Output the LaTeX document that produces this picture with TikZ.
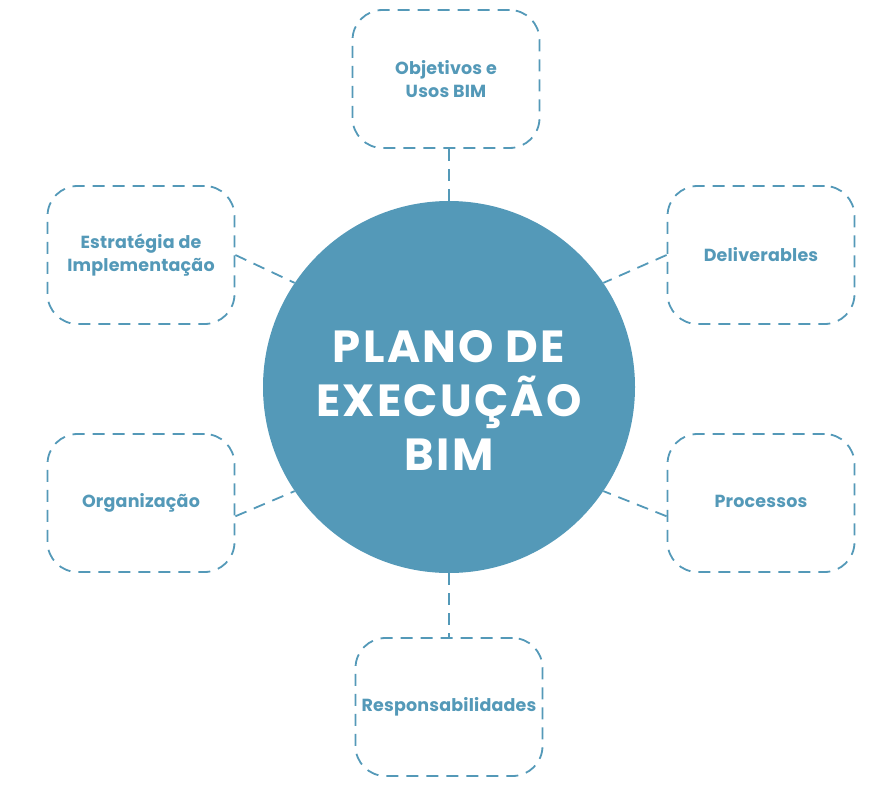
\documentclass[tikz,border=0pt]{standalone}
\usepackage{fontspec}
\setmainfont{Poppins}
\definecolor{bimblue}{RGB}{84,153,184}
\begin{document}
\begin{tikzpicture}[x=1pt, y=-1pt,
        every node/.style={font=\bfseries, text=bimblue, align=center},
        item/.style={draw=bimblue, line width=1.8pt, dash pattern=on 12pt off 8pt, rounded corners=30pt, minimum width=187pt, minimum height=138pt, font=\fontsize{17.5}{23}\selectfont\bfseries\addfontfeatures{LetterSpace=1}},
        link/.style={draw=bimblue, line width=1.8pt, dash pattern=on 12pt off 8pt}]
    \useasboundingbox (0,0) rectangle (896,784);
    \node[circle, fill=bimblue, minimum size=372pt] (plano) at (449,387) {};
    \node[text=white, font=\fontsize{45}{54}\selectfont\bfseries\addfontfeatures{LetterSpace=5}] (titulo) at (449,400) {PLANO DE\\EXECUÇÃO\\BIM};
    \node[item] (objetivos) at (446,79) {Objetivos e\\Usos BIM};
    \node[item] (estrategia) at (141,255) {Estratégia de\\Implementação};
    \node[item] (deliverables) at (761,255) {Deliverables};
    \node[item] (organizacao) at (141,503) {Organização};
    \node[item, text depth=4pt] (processos) at (761,503) {Processos};
    \node[item] (responsab) at (449,707) {Responsabilidades};
    % ligacoes
    \draw[link] (plano.north) -- (plano.north |- objetivos.south);
    \draw[link] (plano.south) -- (plano.south |- responsab.north);
    \draw[link] (estrategia.east) -- (plano.146);
    \draw[link] (deliverables.west) -- (plano.34);
    \draw[link] (organizacao.-8) -- (plano.-146);
    \draw[link] (processos.188) -- (plano.-34);
\end{tikzpicture}
\end{document}
